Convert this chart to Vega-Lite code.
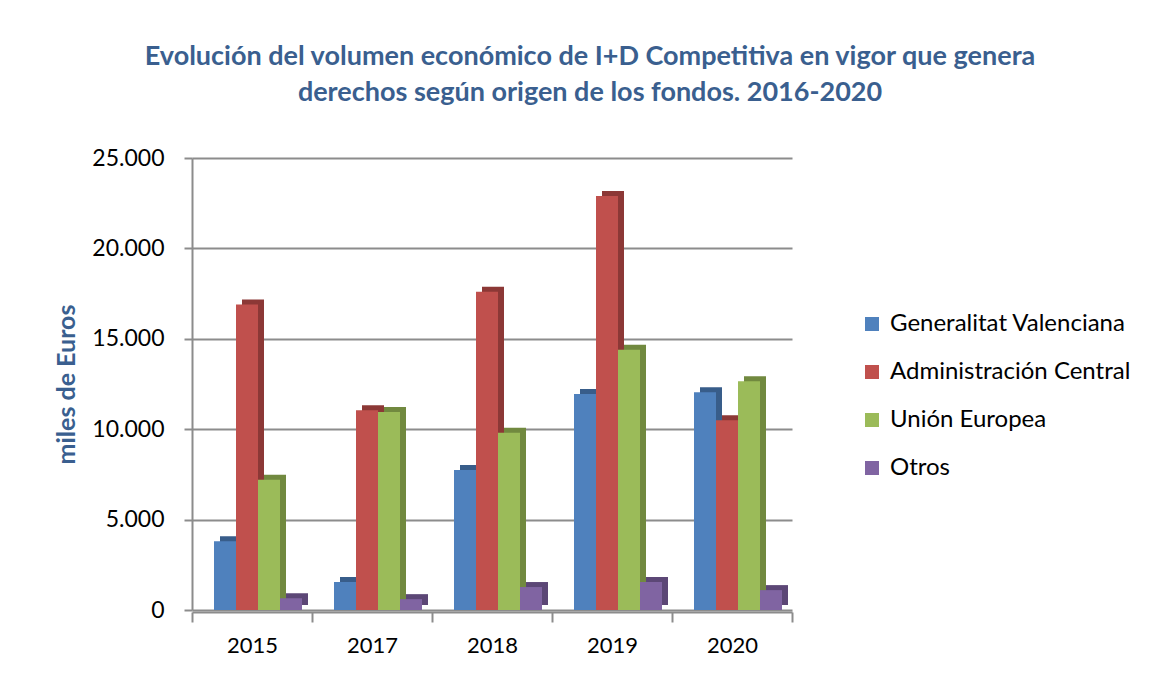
{
  "$schema": "https://vega.github.io/schema/vega-lite/v6.json",
  "width": 600,
  "height": 452,
  "autosize": "none",
  "padding": {"left": 192, "top": 158, "right": 359, "bottom": 67},
  "background": "white",
  "config": {
    "locale": {"number": {"decimal": ",", "thousands": ".", "grouping": [3], "currency": ["", " €"]}},
    "view": {"stroke": null},
    "font": "Lato"
  },
  "title": {
    "text": ["Evolución del volumen económico de I+D Competitiva en vigor que genera", "derechos según origen de los fondos. 2016-2020"],
    "color": "#3A5F8F",
    "fontSize": 27,
    "font": "Lato",
    "fontWeight": "bold",
    "anchor": "middle",
    "frame": "group",
    "dx": 98,
    "offset": 40,
    "lineHeight": 36
  },
  "data": {
    "values": [
      {"anio": "2015", "fuente": "Generalitat Valenciana", "valor": 3800},
      {"anio": "2015", "fuente": "Administración Central", "valor": 16900},
      {"anio": "2015", "fuente": "Unión Europea", "valor": 7200},
      {"anio": "2015", "fuente": "Otros", "valor": 650},
      {"anio": "2017", "fuente": "Generalitat Valenciana", "valor": 1550},
      {"anio": "2017", "fuente": "Administración Central", "valor": 11050},
      {"anio": "2017", "fuente": "Unión Europea", "valor": 10950},
      {"anio": "2017", "fuente": "Otros", "valor": 600},
      {"anio": "2018", "fuente": "Generalitat Valenciana", "valor": 7750},
      {"anio": "2018", "fuente": "Administración Central", "valor": 17600},
      {"anio": "2018", "fuente": "Unión Europea", "valor": 9800},
      {"anio": "2018", "fuente": "Otros", "valor": 1270},
      {"anio": "2019", "fuente": "Generalitat Valenciana", "valor": 11950},
      {"anio": "2019", "fuente": "Administración Central", "valor": 22900},
      {"anio": "2019", "fuente": "Unión Europea", "valor": 14400},
      {"anio": "2019", "fuente": "Otros", "valor": 1550},
      {"anio": "2020", "fuente": "Generalitat Valenciana", "valor": 12050},
      {"anio": "2020", "fuente": "Administración Central", "valor": 10500},
      {"anio": "2020", "fuente": "Unión Europea", "valor": 12650},
      {"anio": "2020", "fuente": "Otros", "valor": 1100}
    ]
  },
  "encoding": {
    "x": {
      "field": "anio",
      "type": "ordinal",
      "scale": {"paddingInner": 0, "paddingOuter": 0},
      "axis": {
        "title": null,
        "labelAngle": 0,
        "tickBand": "extent",
        "tickSize": 10,
        "tickWidth": 2,
        "tickColor": "#8C8C8C",
        "domainColor": "#8C8C8C",
        "domainWidth": 2,
        "labelFontSize": 22,
        "labelColor": "#000000",
        "labelPadding": 13,
        "offset": 2
      }
    },
    "y": {
      "field": "valor",
      "type": "quantitative",
      "scale": {"domain": [0, 25000]},
      "axis": {
        "values": [0, 5000, 10000, 15000, 20000, 25000],
        "format": ",d",
        "title": "miles de Euros",
        "titleFontSize": 25,
        "titleFontWeight": "bold",
        "titleColor": "#3A5F8F",
        "titlePadding": 12,
        "labelFontSize": 23,
        "labelColor": "#000000",
        "labelPadding": 20,
        "tickSize": 8,
        "tickWidth": 2,
        "tickColor": "#8C8C8C",
        "domainColor": "#8C8C8C",
        "domainWidth": 2,
        "grid": true,
        "gridColor": "#8C8C8C",
        "gridWidth": 2
      }
    }
  },
  "layer": [
    {
      "mark": {"type": "bar", "yOffset": -5, "y2Offset": -5},
      "encoding": {
        "xOffset": {
          "field": "fuente",
          "type": "nominal",
          "sort": ["Generalitat Valenciana", "Administración Central", "Unión Europea", "Otros"],
          "scale": {"range": [28, 116], "paddingInner": 0, "paddingOuter": 0}
        },
        "color": {
          "field": "fuente",
          "type": "nominal",
          "scale": {
            "domain": ["Generalitat Valenciana", "Administración Central", "Unión Europea", "Otros"],
            "range": ["#385D8A", "#8C3836", "#71893F", "#5C4776"]
          },
          "legend": null
        }
      }
    },
    {
      "mark": {"type": "bar"},
      "encoding": {
        "xOffset": {
          "field": "fuente",
          "type": "nominal",
          "sort": ["Generalitat Valenciana", "Administración Central", "Unión Europea", "Otros"],
          "scale": {"range": [22, 110], "paddingInner": 0, "paddingOuter": 0}
        },
        "color": {
          "field": "fuente",
          "type": "nominal",
          "scale": {
            "domain": ["Generalitat Valenciana", "Administración Central", "Unión Europea", "Otros"],
            "range": ["#4F81BD", "#C0504D", "#9BBB59", "#8064A2"]
          },
          "legend": {
            "title": null,
            "orient": "none",
            "legendX": 668,
            "legendY": 154,
            "symbolType": "square",
            "symbolSize": 196,
            "symbolStrokeWidth": 0,
            "labelFontSize": 24,
            "labelColor": "#000000",
            "labelOffset": 6,
            "rowPadding": 24,
            "labelLimit": 400
          }
        }
      }
    }
  ],
  "resolve": {"scale": {"xOffset": "independent", "color": "independent"}}
}
